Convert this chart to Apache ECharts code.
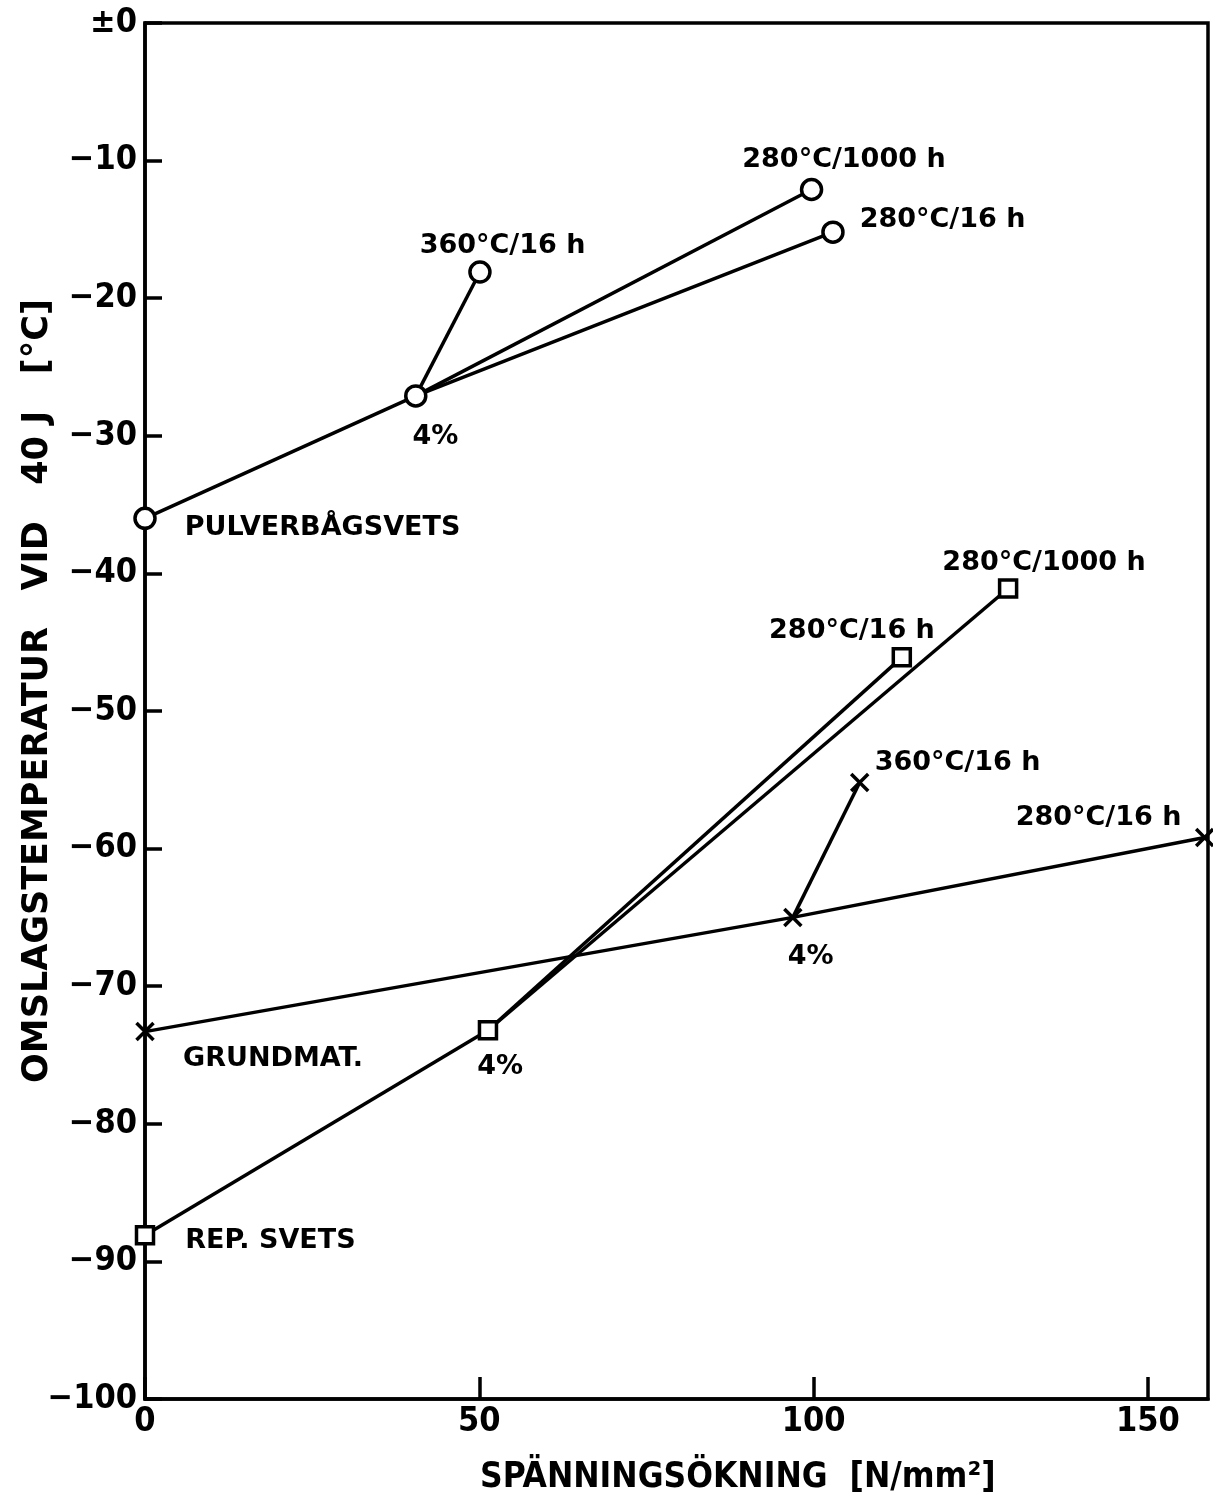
<!DOCTYPE html>
<html>
<head>
<meta charset="utf-8">
<script src="https://cdn.jsdelivr.net/npm/echarts@6/dist/echarts.min.js"></script>
<style>
html,body{margin:0;padding:0;background:#fff;}
#chart{width:1213px;height:1502px;}
</style>
</head>
<body>
<div id="chart"></div>
<script>
// ---- data ----
const xTickValues = [0, 50, 100, 150];
const yTickValues = [0, -10, -20, -30, -40, -50, -60, -70, -80, -90, -100];

const pulverX = [0, 40.5, 50.1, 99.7, 102.9];
const pulverY = [-36.0, -27.1, -18.1, -12.1, -15.2];
const pulverLabels = ['PULVERBÅGSVETS', '4%', '360°C/16 h', '280°C/1000 h', '280°C/16 h'];
const pulverSegments = [[0, 1], [1, 2], [1, 3], [1, 4]];

const repX = [0, 51.3, 113.2, 129.1];
const repY = [-88.1, -73.2, -46.1, -41.1];
const repLabels = ['REP. SVETS', '4%', '280°C/16 h', '280°C/1000 h'];
const repSegments = [[0, 1], [1, 2], [1, 3]];

const grundX = [0, 96.9, 106.9, 158.5];
const grundY = [-73.3, -65.0, -55.2, -59.2];
const grundLabels = ['GRUNDMAT.', '4%', '360°C/16 h', '280°C/16 h'];
const grundSegments = [[0, 1], [1, 2], [1, 3]];

const xTitle = 'SPÄNNINGSÖKNING  [N/mm²]';
const yTitle = 'OMSLAGSTEMPERATUR   VID   40 J   [°C]';

// ---- style (label placement offsets in pixels) ----
const pulverLabelOffsets = [[28, 10], [-15, 41], [-72, -26], [-81, -30], [15, -12]];
const repLabelOffsets = [[30, 6], [-21, 37], [-143, -26], [-76, -26]];
const grundLabelOffsets = [[27, 27], [-16, 40], [4, -20], [-200, -20]];

const FONT_C = "'DejaVu Sans Condensed', 'Liberation Sans Narrow', 'DejaVu Sans', sans-serif";
const FONT = "'DejaVu Sans', 'Liberation Sans', sans-serif";
const INK = '#000';

function segmentSeries(X, Y, segs) {
  return segs.map(s => ({
    type: 'line',
    data: [[X[s[0]], Y[s[0]]], [X[s[1]], Y[s[1]]]],
    symbol: 'none',
    lineStyle: { color: INK, width: 3.5 },
    silent: true,
    animation: false,
    z: 2
  }));
}

function markerSeries(X, Y, labels, offsets, symbol, size, fill) {
  return {
    type: 'scatter',
    symbol: symbol,
    symbolSize: size,
    clip: false,
    animation: false,
    silent: true,
    z: 5,
    itemStyle: { color: fill, borderColor: INK, borderWidth: 3.5, opacity: 1 },
    data: X.map((x, i) => ({
      value: [x, Y[i]],
      label: {
        show: true,
        formatter: labels[i],
        position: 'right',
        distance: 0,
        align: 'left',
        verticalAlign: 'middle',
        offset: offsets[i],
        color: INK,
        opacity: 1,
        fontFamily: FONT,
        fontWeight: 'bold',
        fontSize: 27
      }
    }))
  };
}

const series = [].concat(
  segmentSeries(pulverX, pulverY, pulverSegments),
  segmentSeries(repX, repY, repSegments),
  segmentSeries(grundX, grundY, grundSegments),
  [
    markerSeries(pulverX, pulverY, pulverLabels, pulverLabelOffsets, 'circle', 20, '#fff'),
    markerSeries(repX, repY, repLabels, repLabelOffsets, 'rect', 17, '#fff'),
    markerSeries(grundX, grundY, grundLabels, grundLabelOffsets, 'path://M0,0L10,10M10,0L0,10', 17, 'none')
  ]
);

const chart = echarts.init(document.getElementById('chart'), null, { renderer: 'canvas' });
chart.setOption({
  backgroundColor: '#fff',
  animation: false,
  grid: {
    left: 145, top: 23, width: 1063, height: 1376,
    show: true, borderColor: INK, borderWidth: 3.5, backgroundColor: 'transparent'
  },
  xAxis: {
    type: 'value', min: 0, max: 159, interval: 50,
    axisLine: { show: true, onZero: false, lineStyle: { color: INK, width: 3.5 } },
    axisTick: { show: true, inside: true, length: 22, lineStyle: { color: INK, width: 3.5 } },
    splitLine: { show: false },
    axisLabel: {
      showMaxLabel: false,
      color: INK, fontFamily: FONT_C, fontWeight: 'bold', fontSize: 34, margin: 6,
      formatter: v => (xTickValues.indexOf(v) >= 0 ? String(v) : '')
    }
  },
  yAxis: {
    type: 'value', min: -100, max: 0, interval: 10,
    axisLine: { show: true, onZero: false, lineStyle: { color: INK, width: 3.5 } },
    axisTick: { show: true, inside: true, length: 17, lineStyle: { color: INK, width: 3.5 } },
    splitLine: { show: false },
    axisLabel: {
      color: INK, fontFamily: FONT_C, fontWeight: 'bold', fontSize: 34, margin: 8,
      formatter: v => (yTickValues.indexOf(v) < 0 ? '' : (v === 0 ? '±0' : '−' + Math.abs(v)))
    }
  },
  graphic: [
    {
      type: 'text', x: 480, y: 1478,
      style: { text: xTitle, fill: INK, font: 'bold 35px ' + FONT_C, align: 'left', verticalAlign: 'middle' }
    },
    {
      type: 'text', x: 38, y: 691, rotation: Math.PI / 2,
      style: { text: yTitle, fill: INK, font: 'bold 35px ' + FONT, align: 'center', verticalAlign: 'middle' }
    }
  ],
  series: series
});
</script>
</body>
</html>
